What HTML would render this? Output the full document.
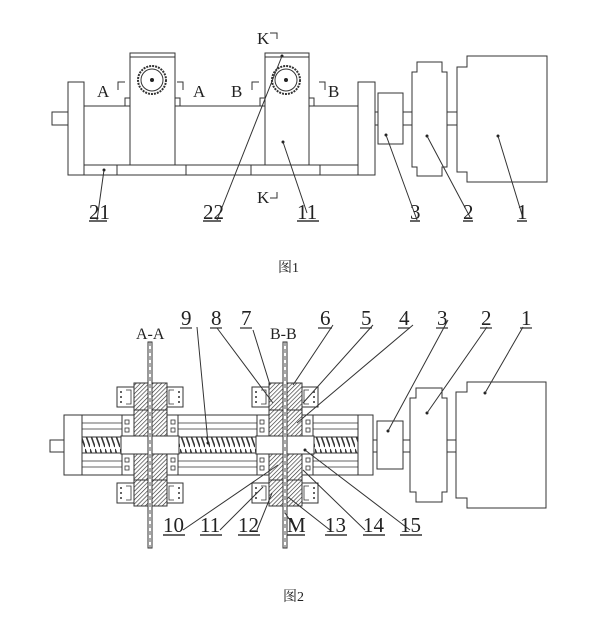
<!DOCTYPE html>
<html><head><meta charset="utf-8"><style>
html,body{margin:0;padding:0;background:#fff;}
svg{display:block;}
text{font-family:"Liberation Serif","Noto Serif CJK SC",serif;fill:#222;}
</style></head><body>
<svg width="601" height="622" viewBox="0 0 601 622" xmlns="http://www.w3.org/2000/svg">
<defs>
<pattern id="h" width="3" height="3" patternUnits="userSpaceOnUse" patternTransform="rotate(45)">
<rect width="3" height="3" fill="#fff"/><line x1="0" y1="0" x2="0" y2="3" stroke="#333" stroke-width="1.3"/>
</pattern>
<pattern id="s" width="5" height="16" patternUnits="userSpaceOnUse">
<rect width="5" height="16" fill="#fff"/><path d="M0,1 L5,15" stroke="#333" stroke-width="1.6"/>
</pattern>
<g id="car">
<rect x="-33" y="387" width="66" height="20" fill="#fff" stroke="#333"/>
<rect x="-33" y="483" width="66" height="20" fill="#fff" stroke="#333"/>
<rect x="-28" y="415" width="56" height="21" fill="#fff" stroke="#333"/>
<rect x="-28" y="454" width="56" height="21" fill="#fff" stroke="#333"/>
<rect x="-29" y="436" width="58" height="18" fill="#fff" stroke="#333"/>
<rect x="-16" y="383" width="33" height="53" fill="url(#h)" stroke="#333"/>
<rect x="-16" y="454" width="33" height="52" fill="url(#h)" stroke="#333"/>
<line x1="-16" y1="410" x2="17" y2="410" stroke="#333"/>
<line x1="-16" y1="480" x2="17" y2="480" stroke="#333"/>
<rect x="-2" y="342" width="4" height="206" fill="#fff" stroke="#333"/>
<line x1="0" y1="342" x2="0" y2="548" stroke="#555" stroke-dasharray="4,3"/>
<g fill="none" stroke="#333" stroke-width="0.8">
<rect x="-25" y="420" width="4" height="4"/><rect x="-25" y="428" width="4" height="4"/>
<rect x="21" y="420" width="4" height="4"/><rect x="21" y="428" width="4" height="4"/>
<rect x="-25" y="458" width="4" height="4"/><rect x="-25" y="466" width="4" height="4"/>
<rect x="21" y="458" width="4" height="4"/><rect x="21" y="466" width="4" height="4"/>
</g>
<g fill="#333">
<circle cx="-29" cy="392" r="1"/><circle cx="-29" cy="397" r="1"/><circle cx="-29" cy="402" r="1"/>
<circle cx="29" cy="392" r="1"/><circle cx="29" cy="397" r="1"/><circle cx="29" cy="402" r="1"/>
<circle cx="-29" cy="488" r="1"/><circle cx="-29" cy="493" r="1"/><circle cx="-29" cy="498" r="1"/>
<circle cx="29" cy="488" r="1"/><circle cx="29" cy="493" r="1"/><circle cx="29" cy="498" r="1"/>
</g>
<path d="M-24,390 h5 v14 h-5 M24,390 h-5 v14 h5 M-24,486 h5 v14 h-5 M24,486 h-5 v14 h5" fill="none" stroke="#333" stroke-width="0.8"/>
</g>
</defs>
<g fill="#fff" stroke="#333" stroke-width="1">
<rect x="52" y="112" width="16" height="13"/>
<rect x="84" y="106" width="274" height="59"/>
<rect x="84" y="165" width="274" height="10"/>
<path d="M117,165v10M186,165v10M251,165v10M320,165v10"/>
<rect x="68" y="82" width="16" height="93"/>
<rect x="358" y="82" width="17" height="93"/>
<rect x="125" y="98" width="5" height="8"/><rect x="175" y="98" width="5" height="8"/>
<rect x="260" y="98" width="5" height="8"/><rect x="309" y="98" width="5" height="8"/>
<rect x="130" y="53" width="45" height="112"/><line x1="130" y1="57" x2="175" y2="57"/>
<rect x="265" y="53" width="44" height="112"/><line x1="265" y1="57" x2="309" y2="57"/>
<circle cx="152" cy="80" r="14" stroke-width="2" stroke-dasharray="2,1"/><circle cx="152" cy="80" r="11"/>
<circle cx="286" cy="80" r="14" stroke-width="2" stroke-dasharray="2,1"/><circle cx="286" cy="80" r="11"/>
<rect x="375" y="112" width="3" height="13"/>
<rect x="378" y="93" width="25" height="51"/>
<rect x="403" y="112" width="9" height="13"/>
<polygon points="417,62 442,62 442,72 447,72 447,167 442,167 442,176 417,176 417,167 412,167 412,72 417,72"/>
<rect x="447" y="112" width="10" height="13"/>
<polygon points="467,56 547,56 547,182 467,182 467,172 457,172 457,67 467,67"/>
<rect x="50" y="440" width="14" height="12"/>
<rect x="82" y="415" width="276" height="60"/>
<path d="M82,423H358M82,429H358M82,461H358M82,467H358" stroke-width="0.8"/>
<rect x="82" y="437" width="276" height="16" fill="url(#s)"/>
<rect x="64" y="415" width="18" height="60"/>
<rect x="358" y="415" width="15" height="60"/>
<rect x="373" y="440" width="4" height="12"/>
<rect x="377" y="421" width="26" height="48"/>
<rect x="403" y="440" width="7" height="12"/>
<polygon points="416,388 442,388 442,398 447,398 447,492 442,492 442,502 416,502 416,492 410,492 410,398 416,398"/>
<rect x="447" y="440" width="9" height="12"/>
<polygon points="467,382 546,382 546,508 467,508 467,498 456,498 456,392 467,392"/>
</g>
<use href="#car" x="150"/>
<use href="#car" x="285"/>
<g fill="#222">
<circle cx="152" cy="80" r="2"/><circle cx="286" cy="80" r="2"/>
<circle cx="104" cy="170" r="1.5"/><circle cx="282" cy="56" r="1.5"/><circle cx="283" cy="142" r="1.5"/>
<circle cx="386" cy="135" r="1.5"/><circle cx="427" cy="136" r="1.5"/><circle cx="498" cy="136" r="1.5"/>
<circle cx="208" cy="443" r="1.5"/><circle cx="388" cy="431" r="1.5"/><circle cx="427" cy="413" r="1.5"/><circle cx="485" cy="393" r="1.5"/>
<circle cx="305" cy="450" r="1.5"/>
</g>
<g stroke="#333" stroke-width="1" fill="none">
<path d="M104,170L97,220M282,56L217,220M283,142L307,213M386,135L417,220M427,136L470,217M498,136L523,218"/>
<path d="M89,221h18M203,221h18M297,221h22M410,221h10M463,221h10M517,221h10" stroke-width="1.5"/>
<path d="M118,90v-8h7M177,82h6v8M252,90v-8h7M319,82h6v8M270,33h7v6M270,198h7v-6"/>
<path d="M197,327L208,443M217,328L273,403M253,330L270,385M333,325L293,385M373,325L303,403M413,325L297,423M448,320L388,431M487,327L427,413M523,327L485,393"/>
<path d="M183,530L278,465M220,530L263,487M257,530L272,493M297,530L285,513M330,530L288,497M365,530L303,470M410,530L305,450"/>
<path d="M180,328h12M210,328h12M240,328h12M318,328h14M360,328h12M398,328h12M436,328h12M480,328h12M520,328h12" stroke-width="1.3"/>
<path d="M163,535h22M200,535h22M238,535h22M287,535h18M325,535h22M363,535h22M400,535h22" stroke-width="1.5"/>
</g>
<g font-size="17">
<text x="97" y="97">A</text><text x="193" y="97">A</text>
<text x="231" y="97">B</text><text x="328" y="97">B</text>
<text x="257" y="44">K</text><text x="257" y="203">K</text>
</g>
<g font-size="21">
<text x="89" y="219">21</text><text x="203" y="219">22</text><text x="297" y="219">11</text>
<text x="410" y="219">3</text><text x="463" y="219">2</text><text x="517" y="219">1</text>
<text x="181" y="325">9</text><text x="211" y="325">8</text><text x="241" y="325">7</text>
<text x="320" y="325">6</text><text x="361" y="325">5</text><text x="399" y="325">4</text>
<text x="437" y="325">3</text><text x="481" y="325">2</text><text x="521" y="325">1</text>
<text x="163" y="532">10</text><text x="200" y="532">11</text><text x="238" y="532">12</text>
<text x="287" y="532">M</text><text x="325" y="532">13</text><text x="363" y="532">14</text><text x="400" y="532">15</text>
</g>
<g font-size="16">
<text x="136" y="339">A-A</text><text x="270" y="339">B-B</text>
</g>
<g font-size="14">
<text x="278" y="272">图1</text><text x="283" y="601">图2</text>
</g>
</svg>
</body></html>
